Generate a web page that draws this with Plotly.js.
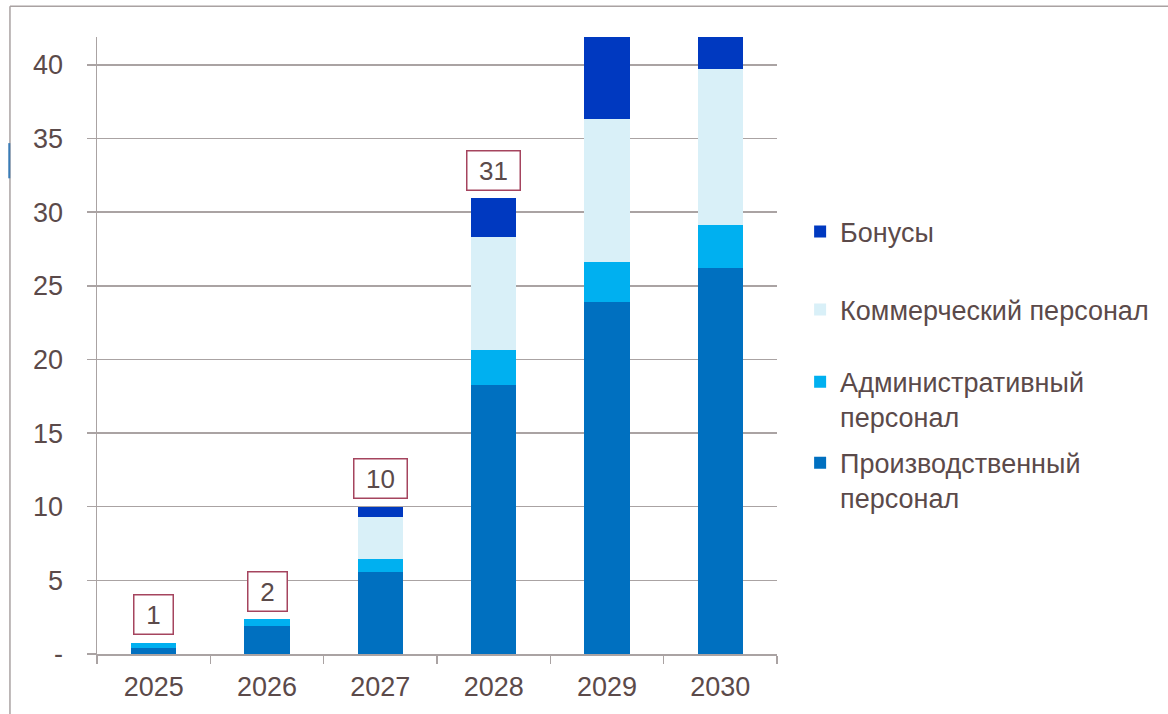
<!DOCTYPE html>
<html>
<head>
<meta charset="utf-8">
<script src="https://cdn.plot.ly/plotly-3.0.1.min.js"></script>
<style>html,body{margin:0;padding:0;background:#fff;}#chart{width:1168px;height:714px;}</style>
</head>
<body>
<div id="chart"></div>
<script>
const years = ["2025", "2026", "2027", "2028", "2029", "2030"];
const production = [0.40, 1.92, 5.60, 18.25, 23.90, 26.20];
const admin = [0.35, 0.44, 0.85, 2.40, 2.70, 2.90];
const commercial = [0.00, 0.00, 2.85, 7.65, 9.70, 10.60];
const bonus = [0.00, 0.00, 0.70, 2.65, 6.00, 2.50];
const totalLabels = ["1", "2", "10", "31", "", ""];
const seriesNames = ["Производственный<br>персонал", "Административный<br>персонал", "Коммерческий персонал", "Бонусы"];
const yTickVals = [0, 5, 10, 15, 20, 25, 30, 35, 40];
const yTickText = ["-", "5", "10", "15", "20", "25", "30", "35", "40"];

const txt = "#5b4a4a";
const grid = "#aaa3a3";
const FONT = "Liberation Sans, Arial, sans-serif";
const colors = ["#0070c0", "#00b0f0", "#d9f0f8", "#0039c0"];
const seriesData = [production, admin, commercial, bonus];
const legendIds = ["legend4", "legend3", "legend2", "legend"];

const traces = seriesData.map((vals, i) => ({
  type: "bar", x: years, y: vals, name: seriesNames[i],
  marker: {color: colors[i], line: {width: 0}},
  legend: legendIds[i], hoverinfo: "skip"
}));

const totals = years.map((_, i) => production[i] + admin[i] + commercial[i] + bonus[i]);
const annotations = [];
years.forEach((yr, i) => {
  if (!totalLabels[i]) return;
  annotations.push({
    x: i, y: totals[i], xref: "x", yref: "y", yshift: 28,
    text: totalLabels[i], showarrow: false,
    font: {family: FONT, size: 26, color: txt},
    width: totalLabels[i].length > 1 ? 52 : 38, height: 38,
    bordercolor: "#a5445e", borderwidth: 1.5, borderpad: 0, bgcolor: "#fff"
  });
});

const legBase = (y) => ({
  x: 1.034, xanchor: "left", y: y, yanchor: "middle", valign: "top",
  bgcolor: "rgba(0,0,0,0)", font: {family: FONT, size: 27, color: txt}
});

const layout = {
  width: 1168, height: 714,
  margin: {l: 97, r: 391, t: 37, b: 60},
  paper_bgcolor: "#fff", plot_bgcolor: "#fff",
  barmode: "stack", bargap: 0.6,
  font: {family: FONT, size: 26, color: txt},
  showlegend: true,
  legend: legBase(0.684),
  legend2: legBase(0.5575),
  legend3: legBase(0.412),
  legend4: legBase(0.281),
  xaxis: {
    type: "category", range: [-0.5, 5.5], autorange: false,
    showline: true, linecolor: grid, linewidth: 1.5,
    ticks: "outside", tickson: "boundaries", ticklen: 8, tickcolor: grid, tickwidth: 1.5,
    ticklabelstandoff: 8,
    showgrid: false, tickfont: {family: FONT, size: 27, color: txt}
  },
  yaxis: {
    range: [0, 41.9], autorange: false, tickmode: "array", tickvals: yTickVals, ticktext: yTickText,
    showline: true, linecolor: grid, linewidth: 1.5,
    ticks: "outside", ticklen: 9, tickcolor: grid, tickwidth: 1.5,
    showgrid: true, gridcolor: grid, gridwidth: 1.5, zeroline: false,
    ticklabelstandoff: 18,
    tickfont: {family: FONT, size: 27, color: txt}
  },
  annotations: annotations,
  shapes: [
    {type: "line", xref: "paper", yref: "paper", x0: -0.128, x1: 1.6, y0: 1.050, y1: 1.050, line: {color: "#a9a2a2", width: 1.5}},
    {type: "line", xref: "paper", yref: "paper", x0: -0.128, x1: -0.128, y0: 1.050, y1: -0.2, line: {color: "#a9a2a2", width: 1.5}},
    {type: "line", xref: "paper", yref: "paper", x0: -0.129, x1: -0.129, y0: 0.828, y1: 0.771, line: {color: "#3a7bb5", width: 2}}
  ]
};

Plotly.newPlot("chart", traces, layout, {displayModeBar: false, staticPlot: true});
</script>
</body>
</html>
